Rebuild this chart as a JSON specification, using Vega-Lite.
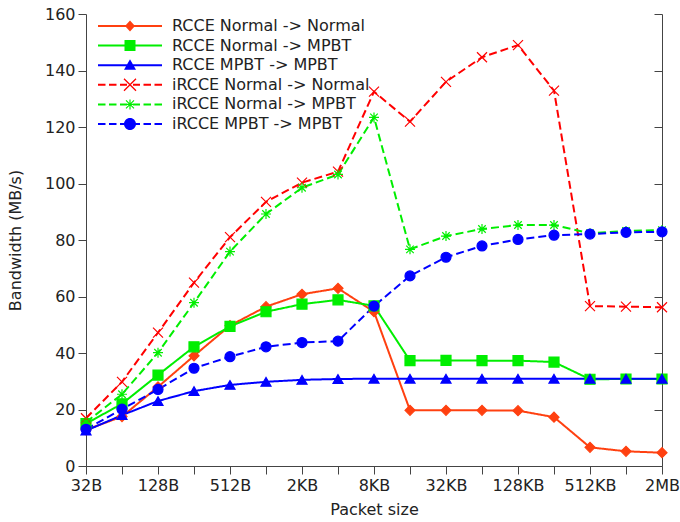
{
  "$schema": "https://vega.github.io/schema/vega-lite/v6.json",
  "width": 576,
  "height": 452,
  "autosize": "none",
  "padding": {"left": 86, "top": 14, "right": 18, "bottom": 56},
  "background": "white",
  "config": {"view": {"stroke": null}, "font": "DejaVu Sans"},
  "data": {"values": [
    {"size": "32B", "series": "RCCE Normal -> Normal", "bw": 12.8},
    {"size": "64B", "series": "RCCE Normal -> Normal", "bw": 17.5},
    {"size": "128B", "series": "RCCE Normal -> Normal", "bw": 28},
    {"size": "256B", "series": "RCCE Normal -> Normal", "bw": 39},
    {"size": "512B", "series": "RCCE Normal -> Normal", "bw": 49.7},
    {"size": "1KB", "series": "RCCE Normal -> Normal", "bw": 56.4},
    {"size": "2KB", "series": "RCCE Normal -> Normal", "bw": 60.8},
    {"size": "4KB", "series": "RCCE Normal -> Normal", "bw": 62.9},
    {"size": "8KB", "series": "RCCE Normal -> Normal", "bw": 54.6},
    {"size": "16KB", "series": "RCCE Normal -> Normal", "bw": 19.7},
    {"size": "32KB", "series": "RCCE Normal -> Normal", "bw": 19.7},
    {"size": "64KB", "series": "RCCE Normal -> Normal", "bw": 19.7},
    {"size": "128KB", "series": "RCCE Normal -> Normal", "bw": 19.6},
    {"size": "256KB", "series": "RCCE Normal -> Normal", "bw": 17.3},
    {"size": "512KB", "series": "RCCE Normal -> Normal", "bw": 6.6},
    {"size": "1MB", "series": "RCCE Normal -> Normal", "bw": 5.2},
    {"size": "2MB", "series": "RCCE Normal -> Normal", "bw": 4.7},
    {"size": "32B", "series": "RCCE Normal -> MPBT", "bw": 15},
    {"size": "64B", "series": "RCCE Normal -> MPBT", "bw": 22},
    {"size": "128B", "series": "RCCE Normal -> MPBT", "bw": 32.2},
    {"size": "256B", "series": "RCCE Normal -> MPBT", "bw": 42.2},
    {"size": "512B", "series": "RCCE Normal -> MPBT", "bw": 49.4},
    {"size": "1KB", "series": "RCCE Normal -> MPBT", "bw": 54.6},
    {"size": "2KB", "series": "RCCE Normal -> MPBT", "bw": 57.3},
    {"size": "4KB", "series": "RCCE Normal -> MPBT", "bw": 58.8},
    {"size": "8KB", "series": "RCCE Normal -> MPBT", "bw": 56.7},
    {"size": "16KB", "series": "RCCE Normal -> MPBT", "bw": 37.3},
    {"size": "32KB", "series": "RCCE Normal -> MPBT", "bw": 37.4},
    {"size": "64KB", "series": "RCCE Normal -> MPBT", "bw": 37.3},
    {"size": "128KB", "series": "RCCE Normal -> MPBT", "bw": 37.3},
    {"size": "256KB", "series": "RCCE Normal -> MPBT", "bw": 36.8},
    {"size": "512KB", "series": "RCCE Normal -> MPBT", "bw": 30.7},
    {"size": "1MB", "series": "RCCE Normal -> MPBT", "bw": 30.8},
    {"size": "2MB", "series": "RCCE Normal -> MPBT", "bw": 30.8},
    {"size": "32B", "series": "RCCE MPBT -> MPBT", "bw": 12.5},
    {"size": "64B", "series": "RCCE MPBT -> MPBT", "bw": 18},
    {"size": "128B", "series": "RCCE MPBT -> MPBT", "bw": 23},
    {"size": "256B", "series": "RCCE MPBT -> MPBT", "bw": 26.5},
    {"size": "512B", "series": "RCCE MPBT -> MPBT", "bw": 28.7},
    {"size": "1KB", "series": "RCCE MPBT -> MPBT", "bw": 29.8},
    {"size": "2KB", "series": "RCCE MPBT -> MPBT", "bw": 30.5},
    {"size": "4KB", "series": "RCCE MPBT -> MPBT", "bw": 30.8},
    {"size": "8KB", "series": "RCCE MPBT -> MPBT", "bw": 30.9},
    {"size": "16KB", "series": "RCCE MPBT -> MPBT", "bw": 30.9},
    {"size": "32KB", "series": "RCCE MPBT -> MPBT", "bw": 30.9},
    {"size": "64KB", "series": "RCCE MPBT -> MPBT", "bw": 30.9},
    {"size": "128KB", "series": "RCCE MPBT -> MPBT", "bw": 30.9},
    {"size": "256KB", "series": "RCCE MPBT -> MPBT", "bw": 30.9},
    {"size": "512KB", "series": "RCCE MPBT -> MPBT", "bw": 30.9},
    {"size": "1MB", "series": "RCCE MPBT -> MPBT", "bw": 30.9},
    {"size": "2MB", "series": "RCCE MPBT -> MPBT", "bw": 30.9},
    {"size": "32B", "series": "iRCCE Normal -> Normal", "bw": 16.9},
    {"size": "64B", "series": "iRCCE Normal -> Normal", "bw": 29.8},
    {"size": "128B", "series": "iRCCE Normal -> Normal", "bw": 47.2},
    {"size": "256B", "series": "iRCCE Normal -> Normal", "bw": 64.9},
    {"size": "512B", "series": "iRCCE Normal -> Normal", "bw": 81},
    {"size": "1KB", "series": "iRCCE Normal -> Normal", "bw": 93.5},
    {"size": "2KB", "series": "iRCCE Normal -> Normal", "bw": 100.3},
    {"size": "4KB", "series": "iRCCE Normal -> Normal", "bw": 104.2},
    {"size": "8KB", "series": "iRCCE Normal -> Normal", "bw": 132.5},
    {"size": "16KB", "series": "iRCCE Normal -> Normal", "bw": 121.9},
    {"size": "32KB", "series": "iRCCE Normal -> Normal", "bw": 136},
    {"size": "64KB", "series": "iRCCE Normal -> Normal", "bw": 144.7},
    {"size": "128KB", "series": "iRCCE Normal -> Normal", "bw": 149},
    {"size": "256KB", "series": "iRCCE Normal -> Normal", "bw": 132.9},
    {"size": "512KB", "series": "iRCCE Normal -> Normal", "bw": 56.6},
    {"size": "1MB", "series": "iRCCE Normal -> Normal", "bw": 56.4},
    {"size": "2MB", "series": "iRCCE Normal -> Normal", "bw": 56.2},
    {"size": "32B", "series": "iRCCE Normal -> MPBT", "bw": 15.5},
    {"size": "64B", "series": "iRCCE Normal -> MPBT", "bw": 25.4},
    {"size": "128B", "series": "iRCCE Normal -> MPBT", "bw": 40.1},
    {"size": "256B", "series": "iRCCE Normal -> MPBT", "bw": 57.8},
    {"size": "512B", "series": "iRCCE Normal -> MPBT", "bw": 75.9},
    {"size": "1KB", "series": "iRCCE Normal -> MPBT", "bw": 89.2},
    {"size": "2KB", "series": "iRCCE Normal -> MPBT", "bw": 98.5},
    {"size": "4KB", "series": "iRCCE Normal -> MPBT", "bw": 103.2},
    {"size": "8KB", "series": "iRCCE Normal -> MPBT", "bw": 123.4},
    {"size": "16KB", "series": "iRCCE Normal -> MPBT", "bw": 76.7},
    {"size": "32KB", "series": "iRCCE Normal -> MPBT", "bw": 81.4},
    {"size": "64KB", "series": "iRCCE Normal -> MPBT", "bw": 83.9},
    {"size": "128KB", "series": "iRCCE Normal -> MPBT", "bw": 85.3},
    {"size": "256KB", "series": "iRCCE Normal -> MPBT", "bw": 85.3},
    {"size": "512KB", "series": "iRCCE Normal -> MPBT", "bw": 82.4},
    {"size": "1MB", "series": "iRCCE Normal -> MPBT", "bw": 83.2},
    {"size": "2MB", "series": "iRCCE Normal -> MPBT", "bw": 83.5},
    {"size": "32B", "series": "iRCCE MPBT -> MPBT", "bw": 13},
    {"size": "64B", "series": "iRCCE MPBT -> MPBT", "bw": 20.1},
    {"size": "128B", "series": "iRCCE MPBT -> MPBT", "bw": 27.1},
    {"size": "256B", "series": "iRCCE MPBT -> MPBT", "bw": 34.6},
    {"size": "512B", "series": "iRCCE MPBT -> MPBT", "bw": 38.7},
    {"size": "1KB", "series": "iRCCE MPBT -> MPBT", "bw": 42.2},
    {"size": "2KB", "series": "iRCCE MPBT -> MPBT", "bw": 43.7},
    {"size": "4KB", "series": "iRCCE MPBT -> MPBT", "bw": 44.2},
    {"size": "8KB", "series": "iRCCE MPBT -> MPBT", "bw": 56.6},
    {"size": "16KB", "series": "iRCCE MPBT -> MPBT", "bw": 67.3},
    {"size": "32KB", "series": "iRCCE MPBT -> MPBT", "bw": 73.9},
    {"size": "64KB", "series": "iRCCE MPBT -> MPBT", "bw": 77.9},
    {"size": "128KB", "series": "iRCCE MPBT -> MPBT", "bw": 80.2},
    {"size": "256KB", "series": "iRCCE MPBT -> MPBT", "bw": 81.7},
    {"size": "512KB", "series": "iRCCE MPBT -> MPBT", "bw": 82.1},
    {"size": "1MB", "series": "iRCCE MPBT -> MPBT", "bw": 82.7},
    {"size": "2MB", "series": "iRCCE MPBT -> MPBT", "bw": 82.9}
  ]},
  "encoding": {
    "x": {
      "field": "size", "type": "ordinal",
      "sort": ["32B","64B","128B","256B","512B","1KB","2KB","4KB","8KB","16KB","32KB","64KB","128KB","256KB","512KB","1MB","2MB"],
      "scale": {"type": "point", "padding": 0},
      "axis": {
        "title": "Packet size",
        "labelExpr": "indexof(['32B','128B','512B','2KB','8KB','32KB','128KB','512KB','2MB'], datum.value) >= 0 ? datum.value : ''",
        "labelAngle": 0, "tickSize": 8, "labelPadding": 3, "labelFontSize": 16,
        "titleFontSize": 16, "titleFontWeight": "normal", "titlePadding": 8,
        "domainColor": "#444", "tickColor": "#444", "labelColor": "#222", "titleColor": "#222", "grid": false
      }
    }
  },
  "layer": [
    {
      "mark": {"type": "line", "strokeWidth": 2},
      "encoding": {
        "y": {"field": "bw", "type": "quantitative", "scale": {"domain": [0, 160], "nice": false},
          "axis": {"title": "Bandwidth (MB/s)", "values": [0,20,40,60,80,100,120,140,160], "grid": false,
            "tickSize": 8, "labelPadding": 3, "labelFontSize": 16, "titleFontSize": 16, "titleFontWeight": "normal",
            "titlePadding": 21, "domainColor": "#444", "tickColor": "#444", "labelColor": "#222", "titleColor": "#222"}},
        "color": {"field": "series", "type": "nominal", "legend": null,
          "scale": {"domain": ["RCCE Normal -> Normal","RCCE Normal -> MPBT","RCCE MPBT -> MPBT","iRCCE Normal -> Normal","iRCCE Normal -> MPBT","iRCCE MPBT -> MPBT"],
            "range": ["#ff4010","#00ee00","#0000ff","#ff0000","#00ee00","#0000ff"]}},
        "strokeDash": {"field": "series", "type": "nominal", "legend": null,
          "scale": {"domain": ["RCCE Normal -> Normal","RCCE Normal -> MPBT","RCCE MPBT -> MPBT","iRCCE Normal -> Normal","iRCCE Normal -> MPBT","iRCCE MPBT -> MPBT"],
            "range": [[1,0],[1,0],[1,0],[8,4],[8,4],[8,4]]}}
      }
    },
    {
      "mark": {"type": "point", "opacity": 1, "size": 100, "strokeWidth": 1.2},
      "encoding": {
        "y": {"field": "bw", "type": "quantitative", "scale": {"domain": [0, 160], "nice": false},
          "axis": {"orient": "right", "labels": false, "title": null, "values": [0,20,40,60,80,100,120,140,160], "grid": false,
            "tickSize": -8, "domainColor": "#444", "tickColor": "#444"}},
        "shape": {"field": "series", "type": "nominal", "legend": null,
          "scale": {"domain": ["RCCE Normal -> Normal","RCCE Normal -> MPBT","RCCE MPBT -> MPBT","iRCCE Normal -> Normal","iRCCE Normal -> MPBT","iRCCE MPBT -> MPBT"],
            "range": ["diamond","square","triangle-up","M-1,-1L1,1M-1,1L1,-1","M-1,0L1,0M0,-1L0,1M-0.75,-0.75L0.75,0.75M-0.75,0.75L0.75,-0.75","circle"]}},
        "fill": {"field": "series", "type": "nominal", "legend": null,
          "scale": {"domain": ["RCCE Normal -> Normal","RCCE Normal -> MPBT","RCCE MPBT -> MPBT","iRCCE Normal -> Normal","iRCCE Normal -> MPBT","iRCCE MPBT -> MPBT"],
            "range": ["#ff4010","#00ee00","#0000ff","transparent","transparent","#0000ff"]}},
        "stroke": {"field": "series", "type": "nominal", "legend": null,
          "scale": {"domain": ["RCCE Normal -> Normal","RCCE Normal -> MPBT","RCCE MPBT -> MPBT","iRCCE Normal -> Normal","iRCCE Normal -> MPBT","iRCCE MPBT -> MPBT"],
            "range": ["#ff4010","#00ee00","#0000ff","#ff0000","#00ee00","#0000ff"]}}
      }
    },
    {
      "transform": [{"filter": "false"}],
      "mark": {"type": "point", "filled": true, "opacity": 1, "size": 400, "strokeWidth": 0},
      "encoding": {
        "y": {"field": "bw", "type": "quantitative", "scale": {"domain": [0, 160], "nice": false}, "axis": null},
        "color": {"field": "series", "type": "nominal",
          "scale": {"domain": ["RCCE Normal -> Normal","RCCE Normal -> MPBT","RCCE MPBT -> MPBT","iRCCE Normal -> Normal","iRCCE Normal -> MPBT","iRCCE MPBT -> MPBT"],
            "range": ["#ff4010","#00ee00","#0000ff","#ff0000","#00ee00","#0000ff"]},
          "legend": {"orient": "none", "legendX": 34, "legendY": 2, "title": null, "symbolSize": 400,
            "labelFontSize": 16, "labelColor": "#222", "labelOffset": 32, "rowPadding": 1.6, "padding": 0,
            "symbolStrokeWidth": 0, "labelLimit": 400}},
        "shape": {"field": "series", "type": "nominal",
          "scale": {"domain": ["RCCE Normal -> Normal","RCCE Normal -> MPBT","RCCE MPBT -> MPBT","iRCCE Normal -> Normal","iRCCE Normal -> MPBT","iRCCE MPBT -> MPBT"],
            "range": [
              "M-3.2,-0.1H3.2V0.1H-3.2Z M0,-0.55L0.5,0L0,0.55L-0.5,0Z",
              "M-3.2,-0.1H3.2V0.1H-3.2Z M-0.55,-0.55H0.55V0.55H-0.55Z",
              "M-3.2,-0.1H3.2V0.1H-3.2Z M0,-0.6L0.6,0.45H-0.6Z",
              "M-3.2,-0.1H-2.45V0.1H-3.2Z M-2.1,-0.1H-1.35V0.1H-2.1Z M-1.0,-0.1H-0.3V0.1H-1.0Z M0.3,-0.1H1.0V0.1H0.3Z M1.35,-0.1H2.1V0.1H1.35Z M2.45,-0.1H3.2V0.1H2.45Z M-0.554,-0.646L0.646,0.554L0.554,0.646L-0.646,-0.554Z M-0.554,0.646L-0.646,0.554L0.554,-0.646L0.646,-0.554Z",
              "M-3.2,-0.1H-2.45V0.1H-3.2Z M-2.1,-0.1H-1.35V0.1H-2.1Z M-1.0,-0.1H-0.3V0.1H-1.0Z M0.3,-0.1H1.0V0.1H0.3Z M1.35,-0.1H2.1V0.1H1.35Z M2.45,-0.1H3.2V0.1H2.45Z M-0.5,-0.06H0.5V0.06H-0.5Z M-0.06,-0.5H0.06V0.5H-0.06Z M-0.358,-0.442L0.442,0.358L0.358,0.442L-0.442,-0.358Z M-0.358,0.442L-0.442,0.358L0.358,-0.442L0.442,-0.358Z",
              "M-3.2,-0.1H-2.45V0.1H-3.2Z M-2.1,-0.1H-1.35V0.1H-2.1Z M-1.0,-0.1H-0.3V0.1H-1.0Z M0.3,-0.1H1.0V0.1H0.3Z M1.35,-0.1H2.1V0.1H1.35Z M2.45,-0.1H3.2V0.1H2.45Z M-0.6,0A0.6,0.6,0,1,1,0.6,0A0.6,0.6,0,1,1,-0.6,0Z"
            ]},
          "legend": {"orient": "none", "legendX": 34, "legendY": 2, "title": null, "symbolSize": 400,
            "labelFontSize": 16, "labelColor": "#222", "labelOffset": 32, "rowPadding": 1.6, "padding": 0,
            "symbolStrokeWidth": 0, "labelLimit": 400}}
      }
    }
  ],
  "resolve": {"scale": {"y": "independent", "color": "independent", "shape": "independent", "strokeDash": "independent", "fill": "independent", "stroke": "independent"}}
}
